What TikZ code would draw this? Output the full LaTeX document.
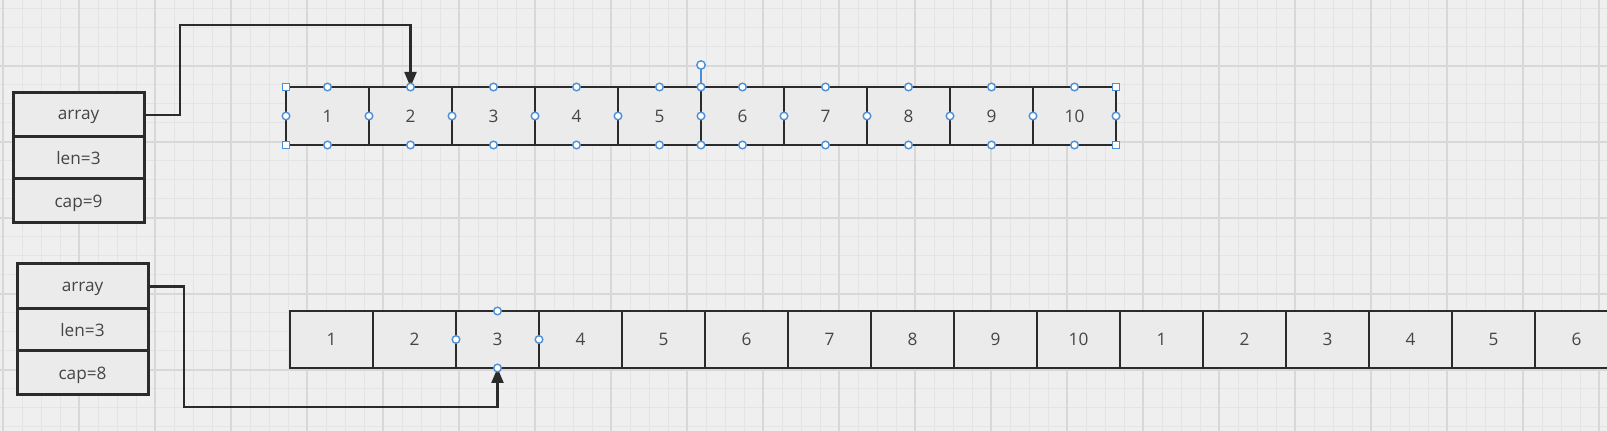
\documentclass[tikz,border=0pt]{standalone}
\usepackage{fontspec}
\setmainfont{Open Sans}
\usetikzlibrary{arrows.meta}
\definecolor{bg}{HTML}{EFEFEF}
\definecolor{gridminor}{HTML}{E4E4E4}
\definecolor{gridmajor}{HTML}{D8D8D8}
\definecolor{cellfill}{HTML}{EBEBEB}
\definecolor{ink}{HTML}{2B2B2B}
\definecolor{txt}{HTML}{454545}
\definecolor{handle}{HTML}{4A8FD8}
\tikzset{
  cell/.style={draw=ink,line width=1.3pt,fill=cellfill,minimum width=41.5pt,
    minimum height=29pt,inner sep=0pt,outer sep=0pt,text=txt,
    font=\fontsize{8.6}{10}\selectfont},
  field/.style={draw=ink,line width=1.5pt,fill=cellfill,minimum width=65.5pt,
    inner sep=0pt,outer sep=0pt,text=txt,text depth=0pt,
    font=\fontsize{8.6}{10}\selectfont},
  conn/.style={draw=ink,line width=1.1pt},
  conntip/.style={conn,-{Triangle[length=7.5pt,width=6pt]}},
  hcirc/.style={draw=handle,fill=white,line width=0.7pt},
  hline/.style={draw=handle,line width=0.6pt},
}
\begin{document}
\begin{tikzpicture}[x=0.5pt,y=-0.5pt]
\useasboundingbox (0,0) rectangle (1607,431);
\clip (0,0) rectangle (1607,431);
\fill[bg] (0,0) rectangle (1607,431);
% grid
\foreach \x in {3,22,...,1607} \draw[gridminor,line width=0.5pt] (\x,0) -- (\x,431);
\foreach \y in {9,28,...,431} \draw[gridminor,line width=0.5pt] (0,\y) -- (1607,\y);
\foreach \x in {3,79,...,1607} \draw[gridmajor,line width=0.6pt] (\x,0) -- (\x,431);
\foreach \y in {66,142,...,431} \draw[gridmajor,line width=0.6pt] (0,\y) -- (1607,\y);

% top struct
\node[field,minimum height=22pt] (sa1) at (78.5,115) {array};
\node[field,minimum height=21pt] (sa2) at (78.5,158) {len=3};
\node[field,minimum height=22pt] (sa3) at (78.5,201) {cap=9};
% bottom struct
\node[field,minimum height=22.5pt] (sb1) at (82.5,286.5) {array};
\node[field,minimum height=21pt] (sb2) at (82.5,330) {len=3};
\node[field,minimum height=22pt] (sb3) at (82.5,373) {cap=8};

% top array
\foreach \i in {1,...,10}
  \node[cell] (t\i) at ({327.5+83*(\i-1)},116) {\i};
% bottom array
\foreach \i [evaluate=\i as \lab using {int(mod(\i-1,10)+1)}] in {1,...,16}
  \node[cell,minimum height=28.5pt] (b\i) at ({331.5+83*(\i-1)},339.5) {\lab};

% connectors
\coordinate (k1) at (180,25);
\coordinate (k2) at (184,407);
\draw[conntip] (sa1.east) -| (k1) -| (t2.north);
\draw[conntip] (sb1.east) -| (k2) -| (b3.south);

% selection handles, top array
\draw[hline] (t5.north east) -- ++(0,-18);
\draw[hcirc] ([yshift=11pt]t5.north east) circle[radius=2.1pt];
\foreach \i in {1,...,10} {
  \draw[hcirc] (t\i.north) circle[radius=1.9pt];
  \draw[hcirc] (t\i.south) circle[radius=1.9pt];
  \draw[hcirc] (t\i.west) circle[radius=1.9pt];
}
\draw[hcirc] (t10.east) circle[radius=1.9pt];
\draw[hcirc] (t5.north east) circle[radius=1.9pt];
\draw[hcirc] (t5.south east) circle[radius=1.9pt];
\foreach \a in {t1.north west,t1.south west,t10.north east,t10.south east}
  \draw[hcirc] ([shift={(-3.5,-3.5)}]\a) rectangle ++(7,7);
% selection handles, bottom cell 3
\foreach \a in {north,south,west,east}
  \draw[hcirc] (b3.\a) circle[radius=1.9pt];
\end{tikzpicture}
\end{document}
